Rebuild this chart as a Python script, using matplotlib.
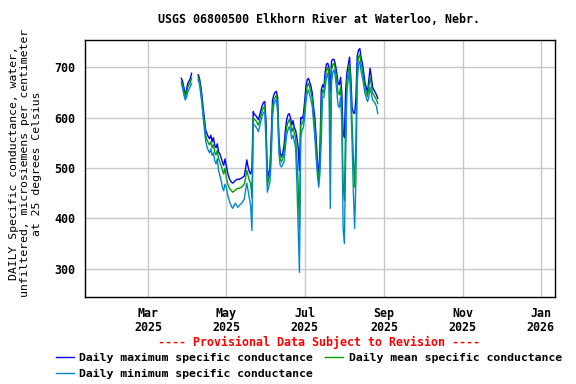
import matplotlib
matplotlib.use("Agg")
import matplotlib.pyplot as plt
import matplotlib.dates as mdates
import numpy as np
import pandas as pd

# daily values, 2025-03-27 .. 2025-08-27 (NaN = no record)
start = "2025-03-27"
gap = [np.nan] * 4  # Apr 5-8

max_mar_apr = [678, 672, 660, 645, 655, 668, 672, 678, 688] + gap + \
    [685, 680, 665, 645, 620, 598, 575, 568, 562, 558, 565, 552, 560, 545,
     540, 548, 532, 528, 520, 512, 505, 518]
mean_mar_apr = [672, 665, 652, 640, 648, 660, 665, 670, 678] + gap + \
    [680, 674, 658, 636, 610, 588, 565, 556, 550, 546, 552, 540, 546, 532,
     526, 535, 518, 512, 505, 496, 488, 500]
min_mar_apr = [668, 658, 645, 635, 640, 650, 656, 662, 668] + gap + \
    [675, 668, 650, 628, 600, 576, 553, 542, 535, 530, 538, 525, 530, 515,
     508, 518, 495, 485, 475, 462, 455, 468]

max_may = [505, 492, 482, 476, 472, 470, 472, 475, 477, 478, 477, 479, 480, 482,
           484, 498, 516, 502, 492, 488, 500, 612, 606, 604, 600, 596, 605, 615,
           624, 630, 632]
mean_may = [482, 470, 462, 458, 455, 452, 454, 456, 458, 460, 459, 461, 462, 465,
            468, 480, 495, 485, 475, 470, 440, 600, 596, 594, 590, 585, 594, 604,
            614, 620, 622]
min_may = [462, 448, 438, 430, 424, 420, 425, 430, 426, 422, 425, 428, 430, 434,
           438, 455, 470, 455, 440, 425, 376, 588, 585, 582, 578, 572, 582, 594,
           604, 610, 612]

max_jun = [590, 478, 490, 500, 560, 634, 645, 650, 652, 640, 560, 530, 522, 530,
           545, 575, 595, 605, 608, 600, 585, 594, 580, 575, 560, 540, 495, 600,
           598, 605]
mean_jun = [570, 465, 478, 488, 540, 620, 635, 640, 644, 625, 545, 518, 512, 520,
            528, 558, 580, 590, 596, 588, 572, 580, 568, 560, 520, 470, 380, 585,
            588, 595]
min_jun = [545, 452, 462, 472, 515, 600, 625, 632, 636, 610, 530, 505, 502, 508,
           512, 540, 565, 575, 582, 574, 558, 565, 552, 540, 470, 380, 293, 560,
           575, 580]

max_jul = [630, 660, 675, 678, 670, 662, 648, 620, 600, 560, 515, 478, 540, 655,
           665, 660, 690, 706, 708, 700, 650, 712, 716, 715, 705, 690, 670, 665,
           680, 650, 570]
mean_jul = [615, 645, 662, 668, 660, 650, 638, 605, 580, 540, 500, 470, 515, 630,
            655, 650, 675, 695, 700, 685, 560, 695, 705, 708, 695, 675, 650, 645,
            660, 620, 470]
min_jul = [600, 630, 648, 655, 645, 635, 622, 590, 560, 520, 485, 462, 490, 555,
           640, 640, 660, 680, 688, 665, 420, 670, 690, 695, 680, 655, 625, 620,
           640, 590, 380]

max_aug = [560, 655, 690, 705, 720, 680, 620, 610, 608, 640, 722, 734, 737, 720,
           708, 690, 670, 660, 650, 675, 698, 680, 660, 655, 650, 645, 638]
mean_aug = [435, 600, 675, 690, 708, 660, 590, 520, 462, 560, 700, 720, 725, 705,
            695, 678, 660, 650, 642, 660, 680, 665, 648, 645, 640, 635, 628]
min_aug = [350, 520, 655, 675, 690, 630, 550, 450, 380, 480, 670, 705, 712, 692,
           680, 665, 648, 640, 632, 640, 660, 648, 635, 632, 628, 622, 608]

daily_max = max_mar_apr + max_may + max_jun + max_jul + max_aug
daily_mean = mean_mar_apr + mean_may + mean_jun + mean_jul + mean_aug
daily_min = min_mar_apr + min_may + min_jun + min_jul + min_aug
dates = pd.date_range(start, periods=len(daily_max), freq="D")

title = "USGS 06800500 Elkhorn River at Waterloo, Nebr."
ylabel = ("DAILY Specific conductance, water,\n"
          "unfiltered, microsiemens per centimeter\n"
          "at 25 degrees Celsius")
yticks = [300, 400, 500, 600, 700]
xticks = ["2025-03-01", "2025-05-01", "2025-07-01", "2025-09-01",
          "2025-11-01", "2026-01-01"]

fs = 8.4
plt.rc("font", family="DejaVu Sans Mono", weight="bold", size=fs)

fig = plt.figure(figsize=(5.76, 3.84), dpi=100)
ax = fig.add_axes([0.1476, 0.2266, 0.8159, 0.6692])

l_max, = ax.plot(dates, daily_max, color="#0000ff", lw=1)
l_mean, = ax.plot(dates, daily_mean, color="#00a000", lw=1)
l_min, = ax.plot(dates, daily_min, color="#0088cc", lw=1)

ax.set_xlim(pd.Timestamp("2025-01-11"), pd.Timestamp("2026-01-12"))
ax.set_ylim(244, 754)
ax.set_yticks(yticks)
ax.set_xticks(pd.to_datetime(xticks))
ax.xaxis.set_major_formatter(mdates.DateFormatter("%b\n%Y"))
for lbl in ax.get_xticklabels():
    lbl.set_linespacing(1.1)
ax.grid(True, color="#c8c8c8", lw=1)
ax.set_axisbelow(True)
ax.tick_params(length=0, pad=7)
for s in ax.spines.values():
    s.set_linewidth(1)

ax.set_ylabel(ylabel, fontsize=8.25, linespacing=1.2)
ax.yaxis.set_label_coords(-0.092, 0.52)
fig.text(0.553, 0.948, title, ha="center", va="center", fontsize=fs)
fig.text(0.553, 0.109, "---- Provisional Data Subject to Revision ----",
         color="red", ha="center", va="center", fontsize=fs)

fig.legend([l_max, l_min, l_mean],
           ["Daily maximum specific conductance",
            "Daily minimum specific conductance",
            "Daily mean specific conductance"],
           loc="upper left", bbox_to_anchor=(0.097, 0.080), ncol=2,
           frameon=False, handlelength=1.55, handletextpad=0.5,
           columnspacing=1.05, labelspacing=0.5, borderaxespad=0, borderpad=0,
           fontsize=8.25)

fig.savefig("out.png", dpi=100)
